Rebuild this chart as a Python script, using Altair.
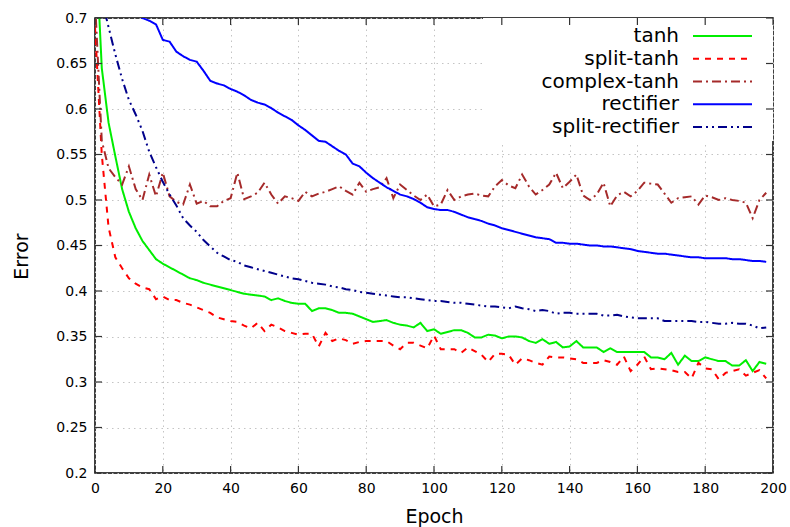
import altair as alt
import pandas as pd

# ---------------- data ----------------
SERIES = ["tanh", "split-tanh", "complex-tanh", "rectifier", "split-rectifier"]
COLORS = ["#00ee00", "#ff0000", "#a52a2a", "#0000ff", "#00008b"]
DASHES = [[1, 0], [6, 6], [9, 4, 2, 4], [1, 0], [9, 4, 2, 4, 2, 4]]

EPOCHS = list(range(0, 200, 2))
RECT_EPOCHS = list(range(12, 200, 2))

tanh = [
    0.800, 0.645, 0.585, 0.548, 0.512, 0.487, 0.469, 0.455, 0.445, 0.435,
    0.430, 0.426, 0.422, 0.418, 0.414, 0.412, 0.409, 0.407, 0.405, 0.403,
    0.401, 0.399, 0.397, 0.396, 0.395, 0.394, 0.390, 0.392, 0.389, 0.387,
    0.386, 0.386, 0.378, 0.381, 0.381, 0.379, 0.376, 0.376, 0.375, 0.372,
    0.369, 0.366, 0.367, 0.368, 0.365, 0.363, 0.362, 0.360, 0.365, 0.356,
    0.358, 0.353, 0.355, 0.357, 0.357, 0.354, 0.349, 0.349, 0.352, 0.351,
    0.348, 0.350, 0.350, 0.349, 0.345, 0.343, 0.347, 0.342, 0.344, 0.338,
    0.339, 0.345, 0.338, 0.338, 0.338, 0.333, 0.337, 0.333, 0.333, 0.333,
    0.333, 0.333, 0.327, 0.327, 0.325, 0.332, 0.319, 0.329, 0.323, 0.323,
    0.327, 0.325, 0.323, 0.323, 0.318, 0.318, 0.324, 0.312, 0.322, 0.320,
]
split_tanh = [
    0.690, 0.550, 0.470, 0.437, 0.425, 0.414, 0.408, 0.404, 0.402, 0.391,
    0.394, 0.390, 0.390, 0.387, 0.385, 0.382, 0.379, 0.376, 0.371, 0.369,
    0.367, 0.366, 0.362, 0.359, 0.365, 0.356, 0.363, 0.360, 0.356, 0.354,
    0.352, 0.353, 0.353, 0.339, 0.354, 0.345, 0.348, 0.346, 0.342, 0.344,
    0.345, 0.345, 0.345, 0.345, 0.340, 0.336, 0.343, 0.343, 0.340, 0.337,
    0.351, 0.336, 0.336, 0.336, 0.332, 0.338, 0.334, 0.330, 0.322, 0.331,
    0.331, 0.330, 0.319, 0.326, 0.324, 0.321, 0.319, 0.328, 0.327, 0.327,
    0.326, 0.325, 0.321, 0.321, 0.321, 0.324, 0.322, 0.319, 0.328, 0.312,
    0.319, 0.328, 0.314, 0.315, 0.314, 0.313, 0.311, 0.311, 0.304, 0.321,
    0.315, 0.314, 0.303, 0.310, 0.312, 0.314, 0.307, 0.310, 0.313, 0.304,
]
complex_tanh = [
    0.720, 0.565, 0.535, 0.525, 0.517, 0.537, 0.512, 0.500, 0.528, 0.504,
    0.530, 0.504, 0.498, 0.495, 0.517, 0.496, 0.499, 0.493, 0.493, 0.499,
    0.502, 0.530, 0.501, 0.504, 0.508, 0.519, 0.506, 0.496, 0.504, 0.502,
    0.499, 0.509, 0.504, 0.507, 0.509, 0.512, 0.515, 0.510, 0.506, 0.519,
    0.509, 0.512, 0.514, 0.524, 0.502, 0.517, 0.511, 0.505, 0.500, 0.506,
    0.493, 0.495, 0.511, 0.500, 0.504, 0.506, 0.507, 0.505, 0.504, 0.515,
    0.522, 0.516, 0.513, 0.528, 0.515, 0.506, 0.511, 0.517, 0.530, 0.513,
    0.520, 0.528, 0.505, 0.500, 0.506, 0.519, 0.493, 0.505, 0.509, 0.504,
    0.510, 0.519, 0.518, 0.517, 0.507, 0.497, 0.502, 0.503, 0.504, 0.495,
    0.505, 0.503, 0.500, 0.502, 0.500, 0.499, 0.497, 0.480, 0.500, 0.508,
]
rectifier = [
    0.705, 0.700, 0.697, 0.693, 0.676, 0.674, 0.663, 0.658, 0.654, 0.652,
    0.642, 0.631, 0.628, 0.626, 0.622, 0.619, 0.615, 0.610, 0.607, 0.605,
    0.601, 0.596, 0.592, 0.588, 0.582, 0.577, 0.571, 0.565, 0.564, 0.559,
    0.554, 0.550, 0.540, 0.537, 0.530, 0.524, 0.519, 0.514, 0.510, 0.506,
    0.504, 0.501, 0.497, 0.492, 0.490, 0.489, 0.489, 0.487, 0.484, 0.481,
    0.479, 0.477, 0.474, 0.472, 0.469, 0.467, 0.465, 0.463, 0.461, 0.459,
    0.458, 0.457, 0.453, 0.453, 0.452, 0.452, 0.451, 0.450, 0.450, 0.449,
    0.449, 0.448, 0.447, 0.446, 0.444, 0.443, 0.442, 0.441, 0.441, 0.440,
    0.439, 0.438, 0.437, 0.437, 0.436, 0.436, 0.436, 0.436, 0.435, 0.435,
    0.434, 0.433, 0.433, 0.432,
]
split_rectifier = [
    0.760, 0.720, 0.690, 0.660, 0.633, 0.610, 0.594, 0.576, 0.553, 0.536,
    0.520, 0.506, 0.494, 0.480, 0.472, 0.465, 0.456, 0.449, 0.442, 0.438,
    0.434, 0.432, 0.428, 0.426, 0.424, 0.422, 0.420, 0.418, 0.416, 0.414,
    0.413, 0.411, 0.409, 0.408, 0.407, 0.405, 0.404, 0.402, 0.401, 0.399,
    0.398, 0.397, 0.396, 0.395, 0.394, 0.393, 0.393, 0.392, 0.391, 0.390,
    0.389, 0.389, 0.388, 0.387, 0.387, 0.386, 0.385, 0.384, 0.383, 0.383,
    0.382, 0.381, 0.383, 0.381, 0.380, 0.378, 0.379, 0.378, 0.375, 0.376,
    0.376, 0.375, 0.375, 0.375, 0.375, 0.373, 0.373, 0.374, 0.372, 0.371,
    0.370, 0.370, 0.370, 0.370, 0.367, 0.367, 0.367, 0.367, 0.367, 0.366,
    0.366, 0.365, 0.364, 0.364, 0.365, 0.364, 0.364, 0.362, 0.359, 0.360,
]

X_TICKS = [0, 20, 40, 60, 80, 100, 120, 140, 160, 180, 200]
Y_TICKS = [0.2, 0.25, 0.3, 0.35, 0.4, 0.45, 0.5, 0.55, 0.6, 0.65, 0.7]

# ---------------- build long table ----------------
rows = []
for name, xs, ys in [
    ("tanh", EPOCHS, tanh),
    ("split-tanh", EPOCHS, split_tanh),
    ("complex-tanh", EPOCHS, complex_tanh),
    ("rectifier", RECT_EPOCHS, rectifier),
    ("split-rectifier", EPOCHS, split_rectifier),
]:
    for xv, yv in zip(xs, ys):
        rows.append({"series": name, "epoch": xv, "error": yv})
df = pd.DataFrame(rows)

W, H = 678, 455
FONT = "DejaVu Sans"

x_scale = alt.Scale(domain=[0, 200], nice=False)
y_scale = alt.Scale(domain=[0.2, 0.7], nice=False, zero=False)
color_scale = alt.Scale(domain=SERIES, range=COLORS)
dash_scale = alt.Scale(domain=SERIES, range=DASHES)

x_axis = alt.Axis(values=X_TICKS, format="d", title="Epoch", labelFlush=False,
                  titleY=43, titleBaseline="middle")

lines = alt.Chart(df).mark_line(clip=True, strokeWidth=2).encode(
    x=alt.X("epoch:Q", scale=x_scale, axis=x_axis),
    y=alt.Y("error:Q", scale=y_scale,
            axis=alt.Axis(values=Y_TICKS, format=".2~f", title="Error",
                          labelFlush=False,
                          titleX=-74, titleY=238, titleBaseline="middle",
                          titleAlign="center")),
    color=alt.Color("series:N", scale=color_scale, legend=None),
    strokeDash=alt.StrokeDash("series:N", scale=dash_scale, legend=None),
    order=alt.Order("epoch:Q"),
)

# white background of the key box (hides the grid there, as in the reference)
key_bg = alt.Chart(pd.DataFrame({"k": [0]})).mark_rect(fill="white").encode(
    x=alt.value(388), x2=alt.value(W), y=alt.value(0), y2=alt.value(123)
)

legend_df = pd.DataFrame({"series": SERIES})
key_y = alt.Y("series:N", scale=alt.Scale(type="point", domain=SERIES,
                                          range=[18, 109], padding=0), axis=None)
key_text = alt.Chart(legend_df).mark_text(
    align="right", baseline="middle", fontSize=20, font=FONT, color="black"
).encode(x=alt.value(584), y=key_y, text="series:N")
key_line = alt.Chart(legend_df).mark_rule(strokeWidth=2).encode(
    x=alt.value(598), x2=alt.value(657), y=key_y,
    color=alt.Color("series:N", scale=color_scale, legend=None),
    strokeDash=alt.StrokeDash("series:N", scale=dash_scale, legend=None),
)

# inward tick marks on all four sides (gnuplot style)
xt = pd.DataFrame({"epoch": X_TICKS})
yt = pd.DataFrame({"error": Y_TICKS})
tick_col = "#333333"
xt_enc = alt.X("epoch:Q", scale=x_scale, axis=x_axis)
yt_enc = alt.Y("error:Q", scale=y_scale, axis=None)
tick_bottom = alt.Chart(xt).mark_rule(color=tick_col, strokeWidth=1.2).encode(
    x=xt_enc, y=alt.value(H), y2=alt.value(H - 7))
tick_top = alt.Chart(xt).mark_rule(color=tick_col, strokeWidth=1.2).encode(
    x=xt_enc, y=alt.value(0), y2=alt.value(7))
tick_left = alt.Chart(yt).mark_rule(color=tick_col, strokeWidth=1.2).encode(
    y=yt_enc, x=alt.value(0), x2=alt.value(7))
tick_right = alt.Chart(yt).mark_rule(color=tick_col, strokeWidth=1.2).encode(
    y=yt_enc, x=alt.value(W - 7), x2=alt.value(W))

chart = alt.layer(
    lines, key_bg, key_text, key_line, tick_bottom, tick_top, tick_left, tick_right
).resolve_scale(y="independent").properties(
    width=W, height=H,
    autosize=alt.AutoSizeParams(type="none"),
    padding={"left": 95, "top": 18, "right": 17, "bottom": 54},
    background="white",
).configure_view(
    stroke="black", strokeWidth=1.5
).configure_axis(
    labelFont=FONT, labelFontSize=14, labelColor="black",
    titleFont=FONT, titleFontSize=19, titleFontWeight="normal", titleColor="black",
    ticks=False, domain=False, labelPadding=8,
    grid=True, gridColor="#c4c4c4", gridDash=[1.5, 4], gridWidth=1,
)

chart.save("out.html", embed_options={"renderer": "svg", "actions": False})
